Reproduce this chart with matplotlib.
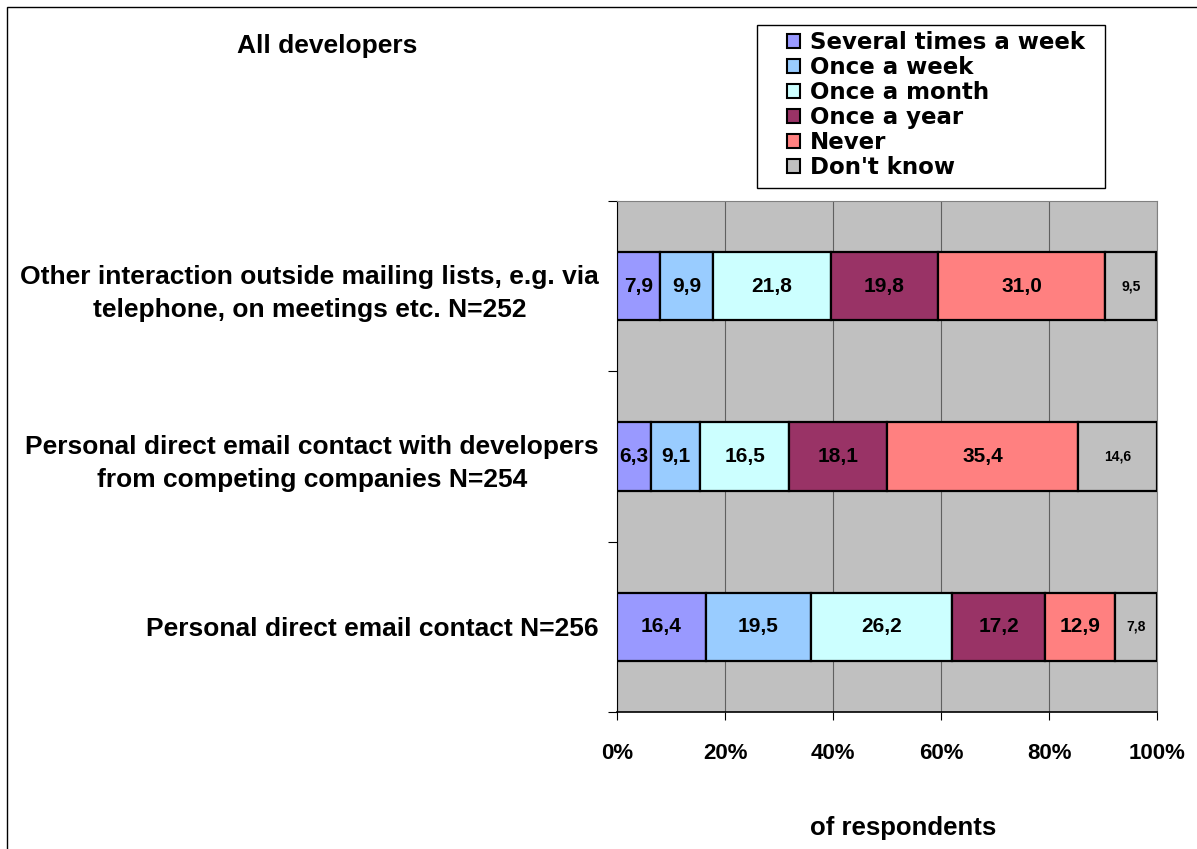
import matplotlib.pyplot as plt
import numpy as np
from matplotlib.patches import Rectangle

# bottom to top, as drawn
categories = [
    "Personal direct email contact N=256",
    "Personal direct email contact with developers\nfrom competing companies N=254",
    "Other interaction outside mailing lists, e.g. via\ntelephone, on meetings etc. N=252",
]
series_names = ["Several times a week", "Once a week", "Once a month",
                "Once a year", "Never", "Don't know"]
several_week = [16.4, 6.3, 7.9]
once_week = [19.5, 9.1, 9.9]
once_month = [26.2, 16.5, 21.8]
once_year = [17.2, 18.1, 19.8]
never = [12.9, 35.4, 31.0]
dont_know = [7.8, 14.6, 9.5]
x_ticks = [0, 20, 40, 60, 80, 100]
x_tick_labels = ["0%", "20%", "40%", "60%", "80%", "100%"]

colors = ["#9999FF", "#99CCFF", "#CCFFFF", "#993366", "#FF8080", "#C0C0C0"]

plt.rcParams["font.family"] = ["Liberation Sans", "DejaVu Sans"]
plt.rcParams["font.weight"] = "bold"

W, H = 1197, 849
fig = plt.figure(figsize=(W / 100, H / 100), dpi=100)
# outer frame of the chart area
fig.patches.append(Rectangle((7 / W, -0.1), 1.2, 1 - 7 / H + 0.1,
                             transform=fig.transFigure, fill=False,
                             edgecolor="black", lw=1.0))
ax = fig.add_axes([617 / W, 1 - 712 / H, 540 / W, 511 / H])
ax.set_facecolor("#C0C0C0")

all_series = [several_week, once_week, once_month, once_year, never, dont_know]
y = np.arange(len(categories))
left = np.zeros(len(categories))
for name, vals, col in zip(series_names, all_series, colors):
    vals = np.array(vals)
    bars = ax.barh(y, vals, left=left, height=0.4, color=col,
                   edgecolor="black", linewidth=1.6, label=name, zorder=3)
    small = name == "Don't know"
    labels = [f"{v:.1f}".replace(".", ",") for v in vals]
    ax.bar_label(bars, labels=labels, label_type="center",
                 fontsize=10 if small else 15, fontweight="bold", color="black")
    left += vals

ax.set_xlim(0, 100)
ax.set_ylim(-0.5, 2.5)
ax.set_xticks(x_ticks)
ax.set_xticklabels(x_tick_labels, fontsize=16, fontweight="bold")
ax.xaxis.grid(True, color="#606060", lw=0.8, zorder=0)
ax.set_axisbelow(True)
ax.tick_params(axis="x", direction="out", length=6, width=0.8, pad=16)

ax.set_yticks(y)
ax.set_yticklabels(categories, fontsize=19, fontweight="bold")
plt.setp(ax.get_yticklabels(), multialignment="center", linespacing=1.5)
ax.tick_params(axis="y", which="major", length=0, pad=13)
ax.set_yticks([-0.5, 0.5, 1.5, 2.5], minor=True)
ax.tick_params(axis="y", which="minor", direction="out", length=6.5, width=0.8)

ax.spines["left"].set_color("black")
ax.spines["bottom"].set_color("black")
ax.spines["bottom"].set_linewidth(1.2)
ax.spines["top"].set_color("#808080")
ax.spines["right"].set_color("#808080")

fig.text(327 / W, 1 - 46 / H, "All developers", ha="center", va="center",
         fontsize=19, fontweight="bold")
fig.text(903 / W, 1 - 828 / H, "of respondents", ha="center", va="center",
         fontsize=18.5, fontweight="bold")

# legend box drawn separately so the padding can be uneven like the original
fig.patches.append(Rectangle((757 / W, 1 - 188 / H), 348 / W, 163 / H,
                             transform=fig.transFigure, facecolor="white",
                             edgecolor="black", lw=1.0, zorder=4))
leg = fig.legend(loc="upper left", bbox_to_anchor=(787 / W, 1 - 31 / H),
                 bbox_transform=fig.transFigure, borderaxespad=0, borderpad=0,
                 prop={"family": "DejaVu Sans", "weight": "bold", "size": 16.5},
                 handlelength=0.57, handleheight=0.57, handletextpad=0.45,
                 labelspacing=0.085, frameon=False)
leg.set_zorder(5)
for h in leg.legend_handles:
    h.set_linewidth(1.5)

fig.savefig("out.png", dpi=100)
